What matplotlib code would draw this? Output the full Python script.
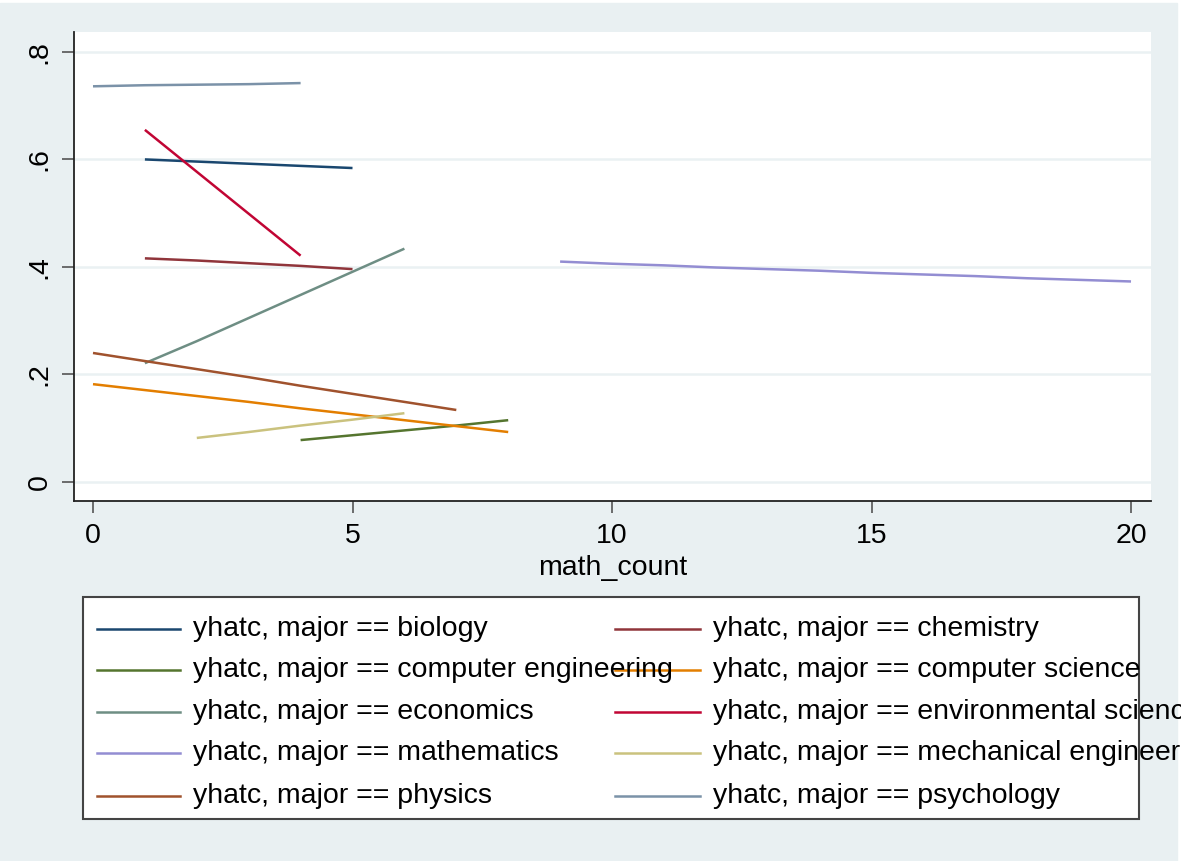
import matplotlib
matplotlib.use("Agg")
import matplotlib.pyplot as plt
from matplotlib.lines import Line2D
from matplotlib.patches import Rectangle

plt.rcParams['font.family'] = ['Liberation Sans', 'DejaVu Sans']

# fitted values (yhatc) by number of math courses, one series per major
majors = ["biology", "chemistry", "computer engineering", "computer science",
          "economics", "environmental science", "mathematics",
          "mechanical engineering", "physics", "psychology"]

biology_x = [1, 2, 3, 4, 5]
biology_y = [0.600, 0.596, 0.592, 0.588, 0.584]
chemistry_x = [1, 2, 3, 4, 5]
chemistry_y = [0.416, 0.412, 0.407, 0.402, 0.396]
comp_eng_x = [4, 5, 6, 7, 8]
comp_eng_y = [0.078, 0.087, 0.096, 0.105, 0.115]
comp_sci_x = [0, 1, 2, 3, 4, 5, 6, 7, 8]
comp_sci_y = [0.182, 0.171, 0.160, 0.149, 0.137, 0.126, 0.115, 0.104, 0.093]
economics_x = [1, 2, 3, 4, 5, 6]
economics_y = [0.221, 0.262, 0.305, 0.348, 0.391, 0.434]
env_sci_x = [1, 2, 3, 4]
env_sci_y = [0.655, 0.577, 0.499, 0.421]
mathematics_x = [9, 10, 11, 12, 13, 14, 15, 16, 17, 18, 19, 20]
mathematics_y = [0.410, 0.406, 0.403, 0.399, 0.396, 0.393, 0.389, 0.386,
                 0.383, 0.379, 0.376, 0.373]
mech_eng_x = [2, 3, 4, 5, 6]
mech_eng_y = [0.082, 0.093, 0.105, 0.116, 0.128]
physics_x = [0, 1, 2, 3, 4, 5, 6, 7]
physics_y = [0.240, 0.225, 0.210, 0.195, 0.179, 0.164, 0.149, 0.134]
psychology_x = [0, 1, 2, 3, 4]
psychology_y = [0.736, 0.738, 0.739, 0.740, 0.742]

series_x = [biology_x, chemistry_x, comp_eng_x, comp_sci_x, economics_x,
            env_sci_x, mathematics_x, mech_eng_x, physics_x, psychology_x]
series_y = [biology_y, chemistry_y, comp_eng_y, comp_sci_y, economics_y,
            env_sci_y, mathematics_y, mech_eng_y, physics_y, psychology_y]

# stata s2color palette
colors = ["#1a476f", "#90353b", "#55752f", "#e37e00", "#6e8e84",
          "#c10534", "#938dd2", "#cac27e", "#a0522d", "#7b92a8"]

x_ticks = [0, 5, 10, 15, 20]
y_ticks = [0, 0.2, 0.4, 0.6, 0.8]
y_labels = ["0", ".2", ".4", ".6", ".8"]

W, H = 1181, 861
bg = "#e9f0f2"
fs = 20.5

fig = plt.figure(figsize=(W / 100, H / 100), dpi=100, facecolor="white")
fig.patches.append(Rectangle((0, 0), 1177 / W, (H - 3) / H,
                             transform=fig.transFigure, color=bg, zorder=-10))


def px(x, y):
    return x / W, 1 - y / H


ax = fig.add_axes([74 / W, 1 - 501 / H, (1151 - 74) / W, (501 - 32) / H])
ax.set_facecolor("white")

for xs, ys, c in zip(series_x, series_y, colors):
    ax.plot(xs, ys, color=c, lw=1.8, solid_capstyle="butt")

ax.set_xlim(-0.366, 20.385)
ax.set_ylim(-0.0353, 0.837)
ax.set_xticks(x_ticks)
ax.set_yticks(y_ticks)
ax.set_yticklabels(y_labels, rotation=90, va="center")
ax.grid(axis="y", color="#eaf1f3", lw=1.8)
ax.set_axisbelow(True)
for s in ["top", "right"]:
    ax.spines[s].set_visible(False)
for s in ["left", "bottom"]:
    ax.spines[s].set_color("#222222")
    ax.spines[s].set_linewidth(1.3)
ax.tick_params(length=8.5, width=1.2, color="#555555", labelsize=fs, pad=7)
ax.set_xlabel("math_count", fontsize=fs, labelpad=5)

# legend box, two columns, text runs past the frame on the right
fig.patches.append(Rectangle(px(83, 819), (1139 - 83) / W, (819 - 597) / H,
                             transform=fig.transFigure, facecolor="white",
                             edgecolor="#444444", lw=1.5, zorder=1))
rows = [629, 670, 712, 753, 796]
for i, (major, c) in enumerate(zip(majors, colors)):
    row, col = divmod(i, 2)
    y = rows[row]
    x0, x1, xt = (97, 180, 193) if col == 0 else (615, 700, 713)
    fig.lines.append(Line2D([x0 / W, x1 / W], [1 - y / H] * 2, color=c, lw=1.8,
                            transform=fig.transFigure, zorder=2))
    fig.text(xt / W, 1 - y / H, "yhatc, major == " + major, fontsize=fs,
             va="center", ha="left", zorder=3)

fig.savefig("out.png", dpi=100, facecolor=fig.get_facecolor())
